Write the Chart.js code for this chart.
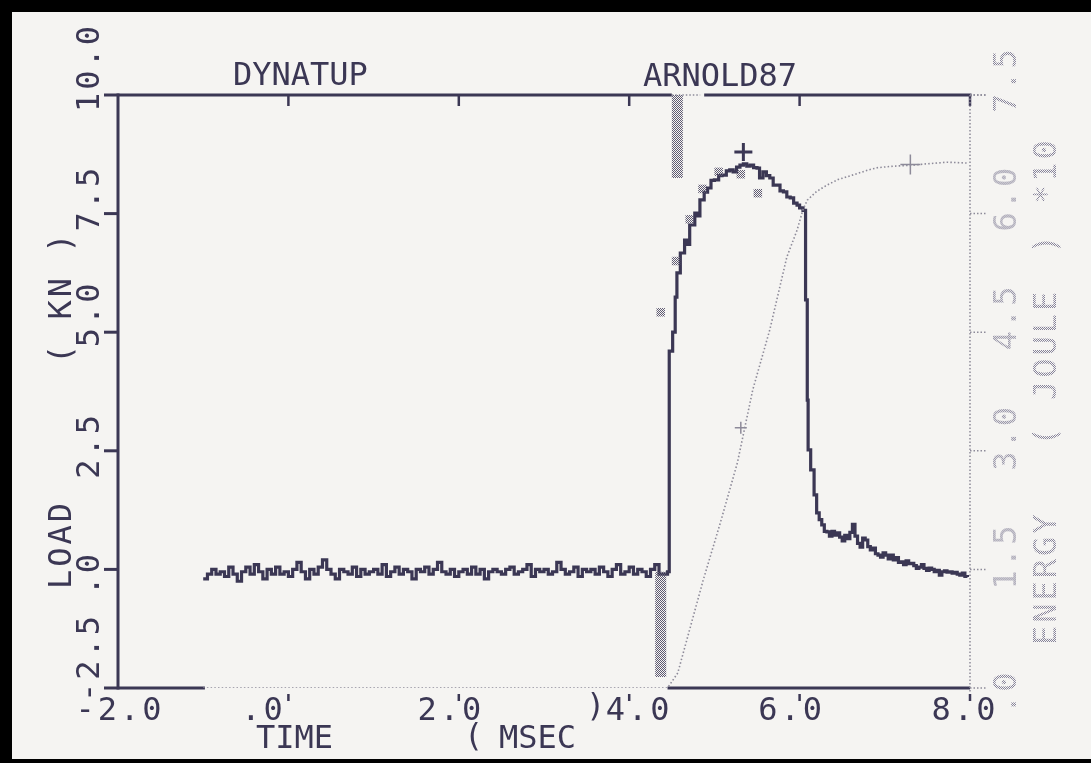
<!DOCTYPE html>
<html>
<head>
<meta charset="utf-8">
<script src="https://cdn.jsdelivr.net/npm/chart.js@4/dist/chart.umd.min.js"></script>
<style>
  html, body { margin: 0; padding: 0; background: #f5f4f2; overflow: hidden; }
  canvas { display: block; }
</style>
</head>
<body>
<canvas id="plot" width="1091" height="763"></canvas>
<script>
// ---- axis ticks and labels ----
const timeTicks = [-2, 0, 2, 4, 6, 8];
const timeTickLabels = ['-2.0', '.0', '2.0', '4.0', '6.0', '8.0'];
const loadTicks = [-2.5, 0, 2.5, 5, 7.5, 10];
const loadTickLabels = ['-2.5', '.0', '2.5', '5.0', '7.5', '10.0'];
const energyTicks = [0, 1.5, 3, 4.5, 6, 7.5];
const energyTickLabels = ['.0', '1.5', '3.0', '4.5', '6.0', '7.5'];

// ---- load before impact: one sample every 0.05 ms from -1.00 ms ----
const baseStart = -1.0;
const baseStep = 0.05;
const baseLoad = [
  -0.2, -0.1, 0.0, -0.1, -0.05, -0.15, 0.05, -0.1, -0.25, -0.05,
  0.05, -0.1, 0.1, -0.05, -0.2, 0.0, -0.1, 0.05, -0.1, -0.05,
  -0.15, 0.0, 0.15, -0.05, -0.2, 0.0, -0.1, 0.05, 0.2, 0.0,
  -0.1, -0.2, 0.0, -0.05, -0.1, 0.05, -0.15, 0.0, -0.1, -0.05,
  0.0, -0.1, 0.1, -0.15, -0.05, 0.05, -0.1, 0.0, -0.05, -0.2,
  0.0, -0.05, 0.05, -0.1, 0.0, 0.15, -0.05, -0.1, 0.0, -0.15,
  -0.05, 0.0, -0.1, 0.05, -0.1, 0.0, -0.2, -0.05, 0.0, -0.05,
  -0.1, 0.0, 0.05, -0.1, -0.05, 0.0, 0.1, -0.15, 0.0, -0.05,
  0.0, -0.1, -0.05, 0.15, 0.0, -0.1, -0.05, 0.05, -0.15, 0.0,
  -0.05, 0.0, -0.1, 0.05, -0.05, -0.15, 0.0, 0.1, -0.1, -0.05,
  0.05, -0.1, 0.0, -0.05, -0.15, 0.0, 0.1, -0.1, -0.1
];

// ---- load during and after impact (ms, kN) ----
const impactTime = [
  4.45, 4.47, 4.51, 4.54, 4.56, 4.60, 4.65, 4.68, 4.71, 4.77,
  4.80, 4.83, 4.88, 4.92, 4.96, 5.00, 5.05, 5.09, 5.14, 5.18,
  5.22, 5.26, 5.30, 5.34, 5.38, 5.42, 5.46, 5.50, 5.53, 5.57,
  5.61, 5.65, 5.69, 5.73, 5.77, 5.81, 5.85, 5.89, 5.93, 5.97,
  6.00, 6.04, 6.07, 6.09, 6.10, 6.13, 6.17,
  6.20, 6.23, 6.26, 6.29, 6.32, 6.35, 6.38, 6.41, 6.44, 6.47,
  6.50, 6.53, 6.56, 6.59, 6.62, 6.65, 6.68, 6.71, 6.74, 6.77,
  6.80, 6.83, 6.86, 6.89, 6.92, 6.95, 6.98, 7.01, 7.04, 7.07,
  7.10, 7.13, 7.16, 7.19, 7.22, 7.25, 7.28, 7.31, 7.34, 7.37,
  7.40, 7.43, 7.46, 7.49, 7.52, 7.55, 7.58, 7.61, 7.64, 7.67,
  7.70, 7.73, 7.76, 7.79, 7.82, 7.85, 7.88, 7.91, 7.94, 7.97
];
const impactLoad = [
  -0.05, 4.6, 5.0, 5.74, 6.25, 6.67, 6.94, 6.85, 7.26, 7.51,
  7.45, 7.79, 7.95, 8.04, 8.20, 8.21, 8.30, 8.31, 8.40, 8.42,
  8.38, 8.48, 8.52, 8.55, 8.50, 8.52, 8.47, 8.46, 8.25, 8.38,
  8.30, 8.25, 8.10, 8.10, 7.98, 7.96, 7.85, 7.83, 7.72, 7.68,
  7.62, 7.57, 5.68, 3.57, 2.52, 2.10, 1.57,
  1.19, 1.05, 0.94, 0.80, 0.79, 0.70, 0.80, 0.72, 0.77, 0.68,
  0.60, 0.72, 0.65, 0.78, 0.95, 0.70, 0.55, 0.47, 0.66, 0.62,
  0.48, 0.41, 0.45, 0.33, 0.30, 0.26, 0.35, 0.30, 0.22, 0.30,
  0.20, 0.25, 0.15, 0.16, 0.10, 0.18, 0.12, 0.13, 0.08, 0.02,
  0.05, 0.10, 0.02, -0.02, 0.03, 0.00, -0.05, -0.02, -0.12, -0.05,
  -0.03, -0.06, -0.05, -0.08, -0.06, -0.10, -0.12, -0.08, -0.15, -0.16
];

// ---- absorbed energy (ms, joule x10) ----
const energyTime = [
  -1.0, 4.45, 4.57, 4.87, 5.07, 5.27, 5.45, 5.65, 5.85, 5.97,
  6.04, 6.09, 6.20, 6.32, 6.45, 6.63, 6.80, 6.91, 7.10, 7.30,
  7.50, 7.73, 7.96
];
const energyJoule = [
  0, 0, 0.19, 1.37, 2.09, 2.85, 3.77, 4.53, 5.45, 5.79,
  6.05, 6.17, 6.28, 6.36, 6.43, 6.49, 6.55, 6.58, 6.60, 6.61,
  6.63, 6.65, 6.64
];

// ---- pen marks ----
const sampleMarkTime = [4.37, 4.55, 4.71, 4.86, 5.05, 5.31, 5.51];
const sampleMarkLoad = [5.42, 6.50, 7.38, 8.02, 8.38, 8.33, 7.93];
const peakMarkTime = [5.34];
const peakMarkLoad = [8.8];
const energyMarkTime = [5.31, 7.30];
const energyMarkJoule = [3.29, 6.62];
const triggerTime = [4.37, 4.565];
const triggerFrom = [-0.05, 10];
const triggerTo = [-2.27, 8.25];

// pen-up stretches of the frame, in ms
const topGap = [4.50, 4.88];
const bottomGap = [-0.98, 4.45];

const INK = '#3b3754';
const GRAY = '#8d8a99';
const FONT = '32px "DejaVu Sans Mono", "Liberation Mono", monospace';
const AXIS_SPACING = '3px';
// plotter placement of the tick labels, px
const timeLabelNudge = [2, -25, -8, 10, -8, -5];
const loadLabelNudge = [14, 26, 28, 15, 18, 17];
const energyLabelNudge = [26, 20, 20, 18, 18, 18];

const canvas = document.getElementById('plot');
const ctx0 = canvas.getContext('2d');

function checker(color) {
  const c = document.createElement('canvas');
  c.width = 2; c.height = 2;
  const g = c.getContext('2d');
  g.fillStyle = color;
  g.fillRect(0, 0, 1, 1);
  g.fillRect(1, 1, 1, 1);
  return ctx0.createPattern(c, 'repeat');
}
const dotInk = checker('#5e5a72');
const dotText = checker('#86839a');

const zip = (xs, ys) => xs.map((x, i) => ({ x, y: ys[i] }));

const loadPoints = baseLoad
  .map((v, i) => ({ x: +(baseStart + i * baseStep).toFixed(2), y: v }))
  .concat(zip(impactTime, impactLoad));

function seg(ctx, x1, y1, x2, y2) {
  ctx.beginPath();
  ctx.moveTo(x1, y1);
  ctx.lineTo(x2, y2);
  ctx.stroke();
}

function rotatedText(ctx, text, x, y, fill) {
  ctx.save();
  ctx.translate(x, y);
  ctx.rotate(-Math.PI / 2);
  ctx.fillStyle = fill;
  ctx.textAlign = 'left';
  ctx.textBaseline = 'alphabetic';
  ctx.fillText(text, 0, 0);
  ctx.restore();
}

const plotterFrame = {
  id: 'plotterFrame',
  beforeDraw(chart) {
    const { ctx, width, height } = chart;
    ctx.save();
    ctx.fillStyle = '#f5f4f2';
    ctx.fillRect(0, 0, width, height);
    ctx.fillStyle = '#000';
    ctx.fillRect(0, 0, width, 12);
    ctx.fillRect(0, 0, 12, height);
    ctx.fillRect(0, height - 4, width, 4);
    ctx.restore();
  },
  beforeDatasetsDraw(chart) {
    const { ctx } = chart;
    const x = chart.scales.x, y = chart.scales.y, y2 = chart.scales.y2;
    const L = x.getPixelForValue(-2), R = x.getPixelForValue(8);
    const T = y.getPixelForValue(10), B = y.getPixelForValue(-2.5);
    ctx.save();
    ctx.lineCap = 'butt';
    ctx.strokeStyle = INK;
    ctx.lineWidth = 3;
    // load axis
    seg(ctx, L, T - 1.5, L, B + 1.5);
    loadTicks.forEach(v => {
      const p = y.getPixelForValue(v);
      seg(ctx, L - 14, p, L, p);
    });
    // top frame with its pen-up stretch
    seg(ctx, L, T, x.getPixelForValue(topGap[0]), T);
    seg(ctx, x.getPixelForValue(topGap[1]), T, R + 1.5, T);
    // bottom frame
    seg(ctx, L, B, x.getPixelForValue(bottomGap[0]), B);
    seg(ctx, x.getPixelForValue(bottomGap[1]), B, R, B);
    ctx.lineWidth = 2.5;
    timeTicks.slice(1).forEach(v => {
      const p = x.getPixelForValue(v);
      seg(ctx, p, T, p, T + 11);
      seg(ctx, p, B + 6, p, B + 13);
    });
    // dotted stretches drawn with the light pen
    ctx.strokeStyle = GRAY;
    ctx.lineWidth = 1.5;
    ctx.setLineDash([1.5, 2]);
    seg(ctx, x.getPixelForValue(topGap[0]), T, x.getPixelForValue(topGap[1]) - 4, T);
    // energy axis
    seg(ctx, R, T, R, B + 4);
    energyTicks.forEach(v => {
      const p = y2.getPixelForValue(v);
      seg(ctx, R, p, R + 16, p);
    });
    seg(ctx, R, T, R + 16, T);
    ctx.restore();
  },
  afterDraw(chart) {
    const { ctx } = chart;
    const x = chart.scales.x, y = chart.scales.y, y2 = chart.scales.y2;
    ctx.save();
    ctx.font = FONT;
    ctx.fillStyle = INK;
    ctx.textBaseline = 'alphabetic';
    // headings and time-axis title
    ctx.textAlign = 'left';
    ctx.fillText('DYNATUP', 233, 85);
    ctx.fillText('ARNOLD87', 643, 86);
    ctx.fillText('TIME', 256, 748);
    ctx.fillText('(', 464, 746);
    ctx.fillText('MSEC', 499, 748);
    ctx.fillText(')', 586, 716);
    // tick labels and side titles use the wider character pitch
    ctx.letterSpacing = AXIS_SPACING;
    ctx.textAlign = 'center';
    timeTicks.forEach((v, i) => {
      ctx.fillText(timeTickLabels[i], x.getPixelForValue(v) + timeLabelNudge[i], 720);
    });
    // load axis
    loadTicks.forEach((v, i) => {
      rotatedText(ctx, loadTickLabels[i], 99, y.getPixelForValue(v) + loadLabelNudge[i], INK);
    });
    rotatedText(ctx, 'LOAD', 71, 589, INK);
    rotatedText(ctx, '( KN )', 71, 364, INK);
    // energy axis, light pen
    energyTicks.forEach((v, i) => {
      rotatedText(ctx, energyTickLabels[i], 1016, y2.getPixelForValue(v) + energyLabelNudge[i], dotText);
    });
    rotatedText(ctx, 'ENERGY', 1056, 645, dotText);
    rotatedText(ctx, '(', 1056, 446, dotText);
    rotatedText(ctx, 'JOULE', 1056, 400, dotText);
    rotatedText(ctx, ')', 1056, 254, dotText);
    rotatedText(ctx, '*10', 1056, 204, dotText);
    ctx.restore();
  }
};

new Chart(ctx0, {
  type: 'line',
  data: {
    datasets: [
      {
        label: 'Energy',
        data: zip(energyTime, energyJoule),
        yAxisID: 'y2',
        borderColor: GRAY,
        borderWidth: 1.6,
        borderDash: [1.5, 2.2],
        pointRadius: 0,
        tension: 0
      },
      {
        label: 'Trigger',
        data: [{ x: triggerTime[0], y: triggerFrom[0] }, { x: triggerTime[0], y: triggerTo[0] }],
        borderColor: dotInk,
        borderWidth: 11,
        pointRadius: 0
      },
      {
        label: 'Trigger top',
        data: [{ x: triggerTime[1], y: triggerFrom[1] }, { x: triggerTime[1], y: triggerTo[1] }],
        borderColor: dotInk,
        borderWidth: 11,
        pointRadius: 0
      },
      {
        label: 'Samples',
        data: zip(sampleMarkTime, sampleMarkLoad),
        showLine: false,
        pointStyle: 'rect',
        pointRadius: 6,
        pointBackgroundColor: dotInk,
        pointBorderWidth: 0
      },
      {
        label: 'Load',
        data: loadPoints,
        stepped: true,
        borderColor: INK,
        borderWidth: 3.2,
        pointRadius: 0,
        borderJoinStyle: 'miter'
      },
      {
        label: 'Peak',
        data: zip(peakMarkTime, peakMarkLoad),
        showLine: false,
        pointStyle: 'cross',
        pointRadius: 9,
        pointBorderColor: INK,
        pointBorderWidth: 3
      },
      {
        label: 'Energy marks',
        data: zip(energyMarkTime, energyMarkJoule),
        yAxisID: 'y2',
        showLine: false,
        pointStyle: 'cross',
        pointRadius: [6, 10],
        pointBorderColor: GRAY,
        pointBorderWidth: 1.5
      }
    ]
  },
  options: {
    responsive: false,
    animation: false,
    devicePixelRatio: 1,
    layout: { padding: { left: 118, top: 95, right: 121, bottom: 75 } },
    plugins: { legend: { display: false }, tooltip: { enabled: false } },
    scales: {
      x: { type: 'linear', min: -2, max: 8, display: false },
      y: { type: 'linear', min: -2.5, max: 10, display: false },
      y2: { type: 'linear', position: 'right', min: 0, max: 7.5, display: false }
    }
  },
  plugins: [plotterFrame]
});
</script>
</body>
</html>
